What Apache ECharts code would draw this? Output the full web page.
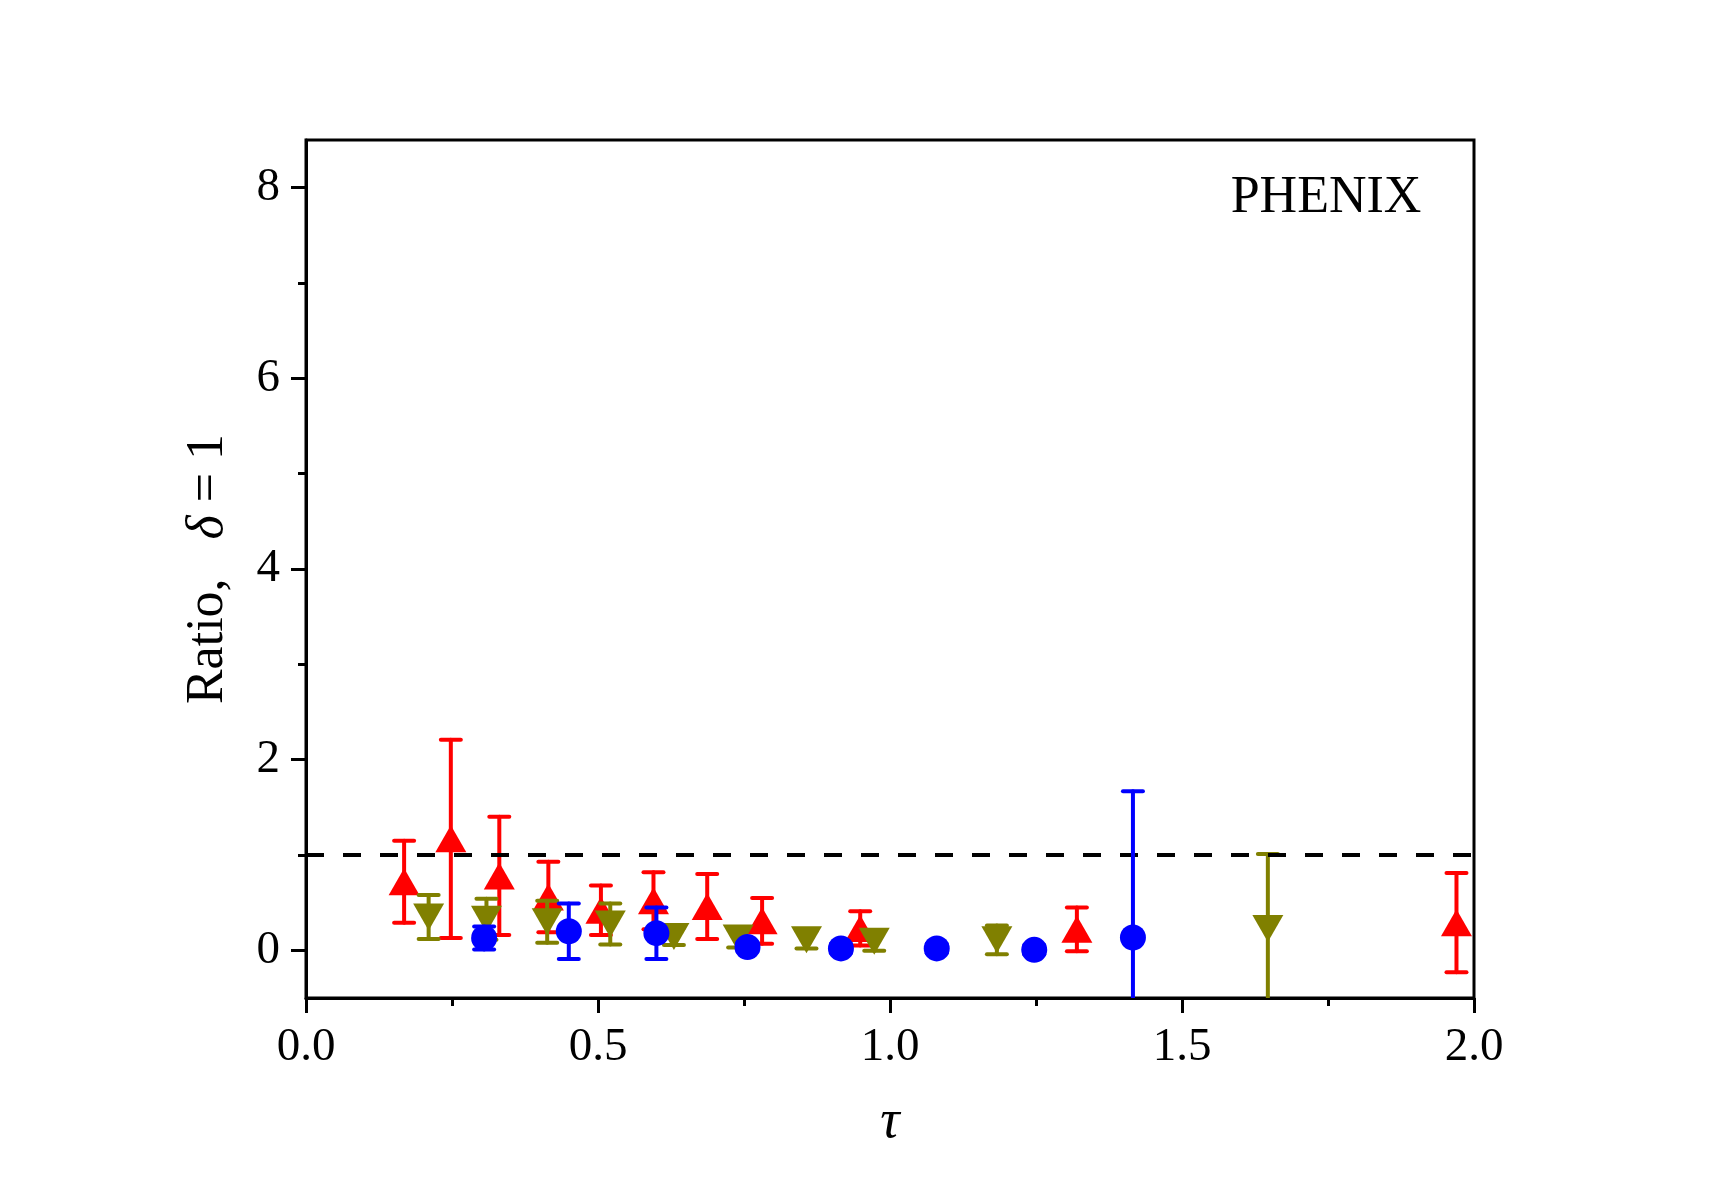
<!DOCTYPE html>
<html>
<head>
<meta charset="utf-8">
<script src="https://cdn.jsdelivr.net/npm/echarts@6/dist/echarts.min.js"></script>
<style>
  html, body { margin: 0; padding: 0; background: #fff; }
  #chart { width: 1713px; height: 1198px; }
</style>
</head>
<body>
<div id="chart"></div>
<script>
// data: tau, ratio, error
var redTau = [0.168, 0.248, 0.331, 0.415, 0.505, 0.595, 0.687, 0.781, 0.949, 1.320, 1.970];
var redVal = [0.72, 1.17, 0.78, 0.56, 0.42, 0.52, 0.46, 0.31, 0.23, 0.22, 0.29];
var redErr = [0.43, 1.04, 0.62, 0.37, 0.26, 0.30, 0.34, 0.24, 0.18, 0.23, 0.52];

var oliveTau = [0.210, 0.309, 0.413, 0.521, 0.630, 0.740, 0.857, 0.973, 1.183, 1.647];
var oliveVal = [0.35, 0.325, 0.30, 0.275, 0.145, 0.13, 0.11, 0.095, 0.11, 0.23];
var oliveErr = [0.23, 0.215, 0.22, 0.215, 0.09, 0.10, 0.09, 0.10, 0.15, 0.78];

var blueTau = [0.305, 0.450, 0.600, 0.756, 0.916, 1.080, 1.247, 1.416];
var blueVal = [0.13, 0.20, 0.18, 0.035, 0.02, 0.02, 0.005, 0.135];
var blueErr = [0.12, 0.29, 0.27, 0.05, 0.05, 0.05, 0.05, 1.535];

var yMajorTicks = [0, 2, 4, 6, 8];
var yMinorTicks = [1, 3, 5, 7];
var refLine = 1;

var FONT = "'Liberation Serif', 'Times New Roman', serif";

function points(xs, ys) {
    var out = [];
    for (var i = 0; i < xs.length; i++) out.push([xs[i], ys[i]]);
    return out;
}
function errPoints(xs, ys, es) {
    var out = [];
    for (var i = 0; i < xs.length; i++) out.push([xs[i], ys[i], es[i]]);
    return out;
}

function errorBars(color) {
    return function (params, api) {
        var x = api.value(0), y = api.value(1), e = api.value(2);
        var top = api.coord([x, y + e]);
        var bot = api.coord([x, y - e]);
        var half = 10;
        var style = { stroke: color, lineWidth: 4, lineCap: 'round' };
        return {
            type: 'group',
            children: [
                { type: 'line', shape: { x1: top[0], y1: top[1], x2: bot[0], y2: bot[1] }, style: style },
                { type: 'line', shape: { x1: top[0] - half, y1: top[1], x2: top[0] + half, y2: top[1] }, style: style },
                { type: 'line', shape: { x1: bot[0] - half, y1: bot[1], x2: bot[0] + half, y2: bot[1] }, style: style }
            ]
        };
    };
}

var chart = echarts.init(document.getElementById('chart'));

var option = {
    backgroundColor: '#fff',
    animation: false,
    grid: {
        left: 306, right: 239, top: 140, bottom: 200,
        show: true, borderColor: '#000', borderWidth: 3, backgroundColor: 'transparent'
    },
    xAxis: {
        type: 'value',
        min: 0, max: 2, interval: 0.5,
        name: 'τ',
        nameLocation: 'middle',
        nameGap: 98,
        nameTextStyle: { fontFamily: FONT, fontStyle: 'italic', fontSize: 54, color: '#000' },
        axisLine: { onZero: false, lineStyle: { color: '#000', width: 3 } },
        axisTick: { inside: false, length: 15, lineStyle: { color: '#000', width: 3 } },
        minorTick: { show: true, splitNumber: 2, length: 8, lineStyle: { color: '#000', width: 3 } },
        axisLabel: {
            margin: 26, fontFamily: FONT, fontSize: 47, color: '#000',
            formatter: function (v) { return v.toFixed(1); }
        },
        splitLine: { show: false }
    },
    yAxis: [{
        type: 'value',
        min: -0.5, max: 8.5,
        position: 'left',
        name: '{r|Ratio,}   {d|δ}{r| = 1}',
        nameLocation: 'middle',
        nameGap: 72,
        nameTextStyle: {
            fontFamily: FONT, fontSize: 52, color: '#000',
            rich: {
                r: { fontFamily: FONT, fontSize: 52, color: '#000' },
                d: { fontFamily: FONT, fontSize: 52, fontStyle: 'italic', color: '#000' }
            }
        },
        axisLine: { onZero: false, lineStyle: { color: '#000', width: 3 } },
        axisTick: { customValues: yMajorTicks, length: 15, lineStyle: { color: '#000', width: 3 } },
        axisLabel: { customValues: yMajorTicks, margin: 26, fontFamily: FONT, fontSize: 47, color: '#000' },
        splitLine: { show: false }
    }, {
        type: 'value',
        min: -0.5, max: 8.5,
        position: 'left',
        axisLine: { show: false },
        axisTick: { customValues: yMinorTicks, length: 8, lineStyle: { color: '#000', width: 3 } },
        axisLabel: { show: false },
        splitLine: { show: false }
    }],
    graphic: [{
        type: 'text',
        x: 1326, y: 198,
        style: {
            text: 'PHENIX',
            font: '52px ' + FONT,
            fill: '#000',
            textAlign: 'center',
            textVerticalAlign: 'middle'
        }
    }],
    series: [{
        type: 'line',
        data: [],
        markLine: {
            silent: true,
            symbol: 'none',
            label: { show: false },
            lineStyle: { color: '#000', width: 4, type: [18, 19] },
            data: [{ yAxis: refLine }]
        }
    }, {
        type: 'custom',
        clip: true,
        renderItem: errorBars('#ff0000'),
        data: errPoints(redTau, redVal, redErr),
        z: 2
    }, {
        type: 'scatter',
        symbol: 'triangle',
        symbolSize: [31, 27],
        itemStyle: { color: '#ff0000', opacity: 1 },
        data: points(redTau, redVal),
        z: 3
    }, {
        type: 'custom',
        clip: true,
        renderItem: errorBars('#808000'),
        data: errPoints(oliveTau, oliveVal, oliveErr),
        z: 4
    }, {
        type: 'scatter',
        symbol: 'triangle',
        symbolRotate: 180,
        symbolSize: [31, 27],
        itemStyle: { color: '#808000', opacity: 1 },
        data: points(oliveTau, oliveVal),
        z: 5
    }, {
        type: 'custom',
        clip: true,
        renderItem: errorBars('#0000ff'),
        data: errPoints(blueTau, blueVal, blueErr),
        z: 6
    }, {
        type: 'scatter',
        symbol: 'circle',
        symbolSize: 26,
        itemStyle: { color: '#0000ff', opacity: 1 },
        data: points(blueTau, blueVal),
        z: 7
    }]
};

chart.setOption(option);
</script>
</body>
</html>
